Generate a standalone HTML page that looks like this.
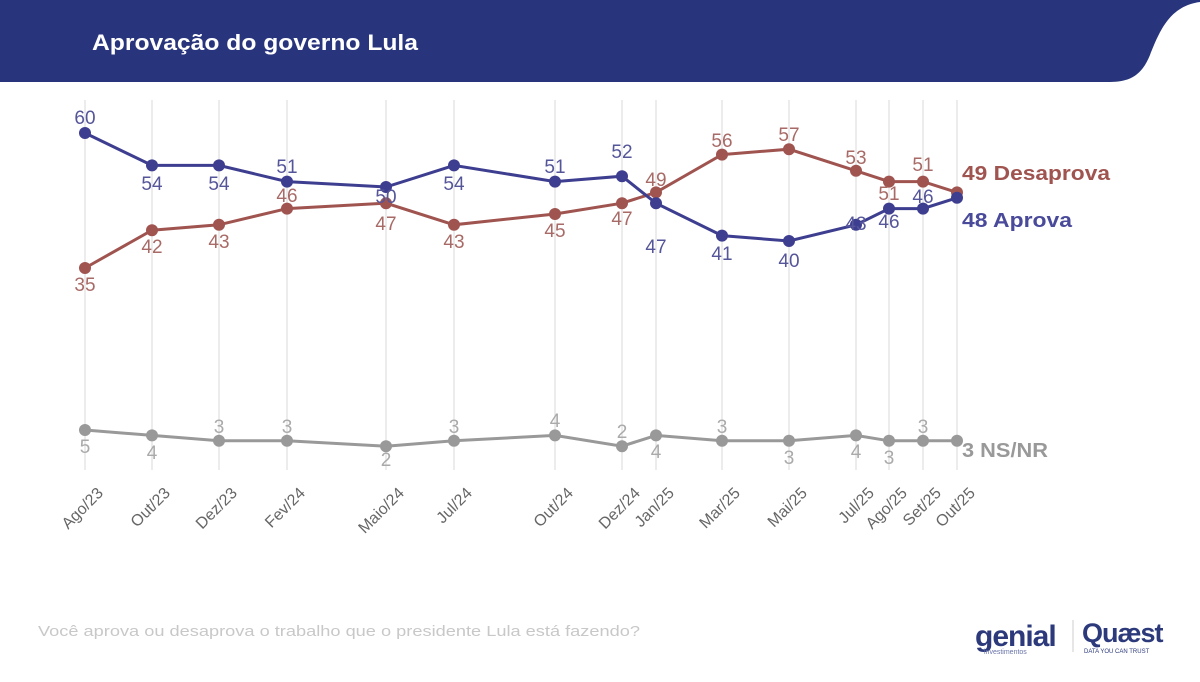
<!DOCTYPE html>
<html><head><meta charset="utf-8"><style>
body{margin:0;width:1200px;height:677px;background:#fff;overflow:hidden;font-family:"Liberation Sans",sans-serif}
</style></head><body>
<svg width="1200" height="677" xmlns="http://www.w3.org/2000/svg" font-family="Liberation Sans, sans-serif">
<path d="M0 0 H1200 V2 C1170 6 1160 30 1150 55 C1142 75 1130 82 1110 82 H0 Z" fill="#28347b"/>
<text x="92" y="50" fill="#fff" font-size="22" font-weight="bold" textLength="326" lengthAdjust="spacingAndGlyphs">Aprovação do governo Lula</text>
<g stroke="#e6e6e6" stroke-width="1.5">
<line x1="85" y1="100" x2="85" y2="470"/><line x1="152" y1="100" x2="152" y2="470"/><line x1="219" y1="100" x2="219" y2="470"/><line x1="287" y1="100" x2="287" y2="470"/><line x1="386" y1="100" x2="386" y2="470"/><line x1="454" y1="100" x2="454" y2="470"/><line x1="555" y1="100" x2="555" y2="470"/><line x1="622" y1="100" x2="622" y2="470"/><line x1="656" y1="100" x2="656" y2="470"/><line x1="722" y1="100" x2="722" y2="470"/><line x1="789" y1="100" x2="789" y2="470"/><line x1="856" y1="100" x2="856" y2="470"/><line x1="889" y1="100" x2="889" y2="470"/><line x1="923" y1="100" x2="923" y2="470"/><line x1="957" y1="100" x2="957" y2="470"/>
</g>
<polyline fill="none" stroke="#999" stroke-width="3" points="85,430 152,435.4 219,440.8 287,440.8 386,446.2 454,440.8 555,435.4 622,446.2 656,435.4 722,440.8 789,440.8 856,435.4 889,440.8 923,440.8 957,440.8"/>
<polyline fill="none" stroke="#a05450" stroke-width="3" points="85,268 152,230.2 219,224.8 287,208.6 386,203.2 454,224.8 555,214 622,203.2 656,192.4 722,154.6 789,149.2 856,170.8 889,181.6 923,181.6 957,192.4"/>
<polyline fill="none" stroke="#3e3e90" stroke-width="3" points="85,133 152,165.4 219,165.4 287,181.6 386,187 454,165.4 555,181.6 622,176.2 656,203.2 722,235.6 789,241 856,224.8 889,208.6 923,208.6 957,197.8"/>
<g fill="#999"><circle cx="85" cy="430" r="6"/><circle cx="152" cy="435.4" r="6"/><circle cx="219" cy="440.8" r="6"/><circle cx="287" cy="440.8" r="6"/><circle cx="386" cy="446.2" r="6"/><circle cx="454" cy="440.8" r="6"/><circle cx="555" cy="435.4" r="6"/><circle cx="622" cy="446.2" r="6"/><circle cx="656" cy="435.4" r="6"/><circle cx="722" cy="440.8" r="6"/><circle cx="789" cy="440.8" r="6"/><circle cx="856" cy="435.4" r="6"/><circle cx="889" cy="440.8" r="6"/><circle cx="923" cy="440.8" r="6"/><circle cx="957" cy="440.8" r="6"/></g>
<g fill="#a05450"><circle cx="85" cy="268" r="6"/><circle cx="152" cy="230.2" r="6"/><circle cx="219" cy="224.8" r="6"/><circle cx="287" cy="208.6" r="6"/><circle cx="386" cy="203.2" r="6"/><circle cx="454" cy="224.8" r="6"/><circle cx="555" cy="214" r="6"/><circle cx="622" cy="203.2" r="6"/><circle cx="656" cy="192.4" r="6"/><circle cx="722" cy="154.6" r="6"/><circle cx="789" cy="149.2" r="6"/><circle cx="856" cy="170.8" r="6"/><circle cx="889" cy="181.6" r="6"/><circle cx="923" cy="181.6" r="6"/><circle cx="957" cy="192.4" r="6"/></g>
<g fill="#3e3e90"><circle cx="85" cy="133" r="6"/><circle cx="152" cy="165.4" r="6"/><circle cx="219" cy="165.4" r="6"/><circle cx="287" cy="181.6" r="6"/><circle cx="386" cy="187" r="6"/><circle cx="454" cy="165.4" r="6"/><circle cx="555" cy="181.6" r="6"/><circle cx="622" cy="176.2" r="6"/><circle cx="656" cy="203.2" r="6"/><circle cx="722" cy="235.6" r="6"/><circle cx="789" cy="241" r="6"/><circle cx="856" cy="224.8" r="6"/><circle cx="889" cy="208.6" r="6"/><circle cx="923" cy="208.6" r="6"/><circle cx="957" cy="197.8" r="6"/></g>
<g font-size="19" text-anchor="middle" fill="#55559a">
<text x="85" y="124">60</text><text x="152" y="190">54</text><text x="219" y="190">54</text><text x="287" y="173">51</text><text x="386" y="203">50</text><text x="454" y="190">54</text><text x="555" y="173">51</text><text x="622" y="158">52</text><text x="656" y="253">47</text><text x="722" y="260">41</text><text x="789" y="267">40</text><text x="856" y="230">43</text><text x="889" y="228">46</text><text x="923" y="203">46</text>
</g>
<g font-size="19" text-anchor="middle" fill="#a86a66">
<text x="85" y="291">35</text><text x="152" y="253">42</text><text x="219" y="248">43</text><text x="287" y="202">46</text><text x="386" y="230">47</text><text x="454" y="248">43</text><text x="555" y="237">45</text><text x="622" y="225">47</text><text x="656" y="186">49</text><text x="722" y="147">56</text><text x="789" y="141">57</text><text x="856" y="164">53</text><text x="889" y="200">51</text><text x="923" y="171">51</text>
</g>
<g font-size="19" text-anchor="middle" fill="#aaa">
<text x="85" y="453">5</text><text x="152" y="459">4</text><text x="219" y="433">3</text><text x="287" y="433">3</text><text x="386" y="466">2</text><text x="454" y="433">3</text><text x="555" y="427">4</text><text x="622" y="438">2</text><text x="656" y="458">4</text><text x="722" y="433">3</text><text x="789" y="464">3</text><text x="856" y="458">4</text><text x="889" y="464">3</text><text x="923" y="433">3</text>
</g>
<text x="962" y="180" font-size="20" font-weight="bold" fill="#a05450" textLength="148" lengthAdjust="spacingAndGlyphs">49 Desaprova</text>
<text x="962" y="227" font-size="20" font-weight="bold" fill="#4a4a9a" textLength="110" lengthAdjust="spacingAndGlyphs">48 Aprova</text>
<text x="962" y="457" font-size="20" font-weight="bold" fill="#999" textLength="86" lengthAdjust="spacingAndGlyphs">3 NS/NR</text>
<g font-size="16" fill="#666" text-anchor="end">
<text transform="translate(104,494) rotate(-45)">Ago/23</text>
<text transform="translate(171,494) rotate(-45)">Out/23</text>
<text transform="translate(238,494) rotate(-45)">Dez/23</text>
<text transform="translate(306,494) rotate(-45)">Fev/24</text>
<text transform="translate(405,494) rotate(-45)">Maio/24</text>
<text transform="translate(473,494) rotate(-45)">Jul/24</text>
<text transform="translate(574,494) rotate(-45)">Out/24</text>
<text transform="translate(641,494) rotate(-45)">Dez/24</text>
<text transform="translate(675,494) rotate(-45)">Jan/25</text>
<text transform="translate(741,494) rotate(-45)">Mar/25</text>
<text transform="translate(808,494) rotate(-45)">Mai/25</text>
<text transform="translate(875,494) rotate(-45)">Jul/25</text>
<text transform="translate(908,494) rotate(-45)">Ago/25</text>
<text transform="translate(942,494) rotate(-45)">Set/25</text>
<text transform="translate(976,494) rotate(-45)">Out/25</text>
</g>
<text x="38" y="636" font-size="15" fill="#c8c8c8" textLength="602" lengthAdjust="spacingAndGlyphs">Você aprova ou desaprova o trabalho que o presidente Lula está fazendo?</text>
<text x="975" y="646" font-size="30" font-weight="bold" fill="#2c3a7c" letter-spacing="-1">genial</text>
<text x="984" y="654" font-size="7" fill="#6a74a8">investimentos</text>
<line x1="1073" y1="620" x2="1073" y2="652" stroke="#ccc"/>
<text x="1082" y="642" font-size="27" font-weight="bold" fill="#2c3a7c" letter-spacing="-1">Quæst</text>
<text x="1084" y="653" font-size="6" fill="#2c3a7c">DATA YOU CAN TRUST</text>
</svg>
</body></html>
